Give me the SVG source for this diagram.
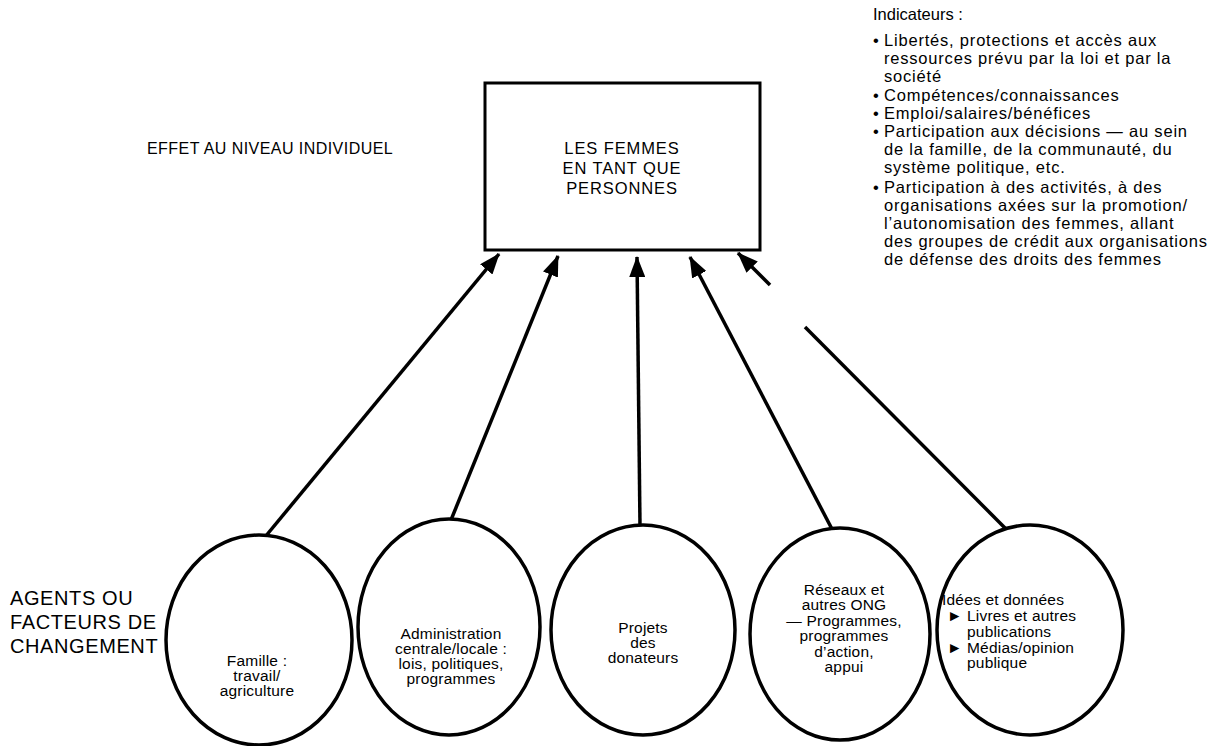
<svg xmlns="http://www.w3.org/2000/svg" width="1229" height="746" viewBox="0 0 1229 746">
<defs>
<style>
text{font-family:"Liberation Sans",Arial,sans-serif;fill:#000}
.ind{font-size:16.5px;letter-spacing:0.8px}
.c{font-size:15.5px;letter-spacing:0.2px;text-anchor:middle}
.c5{font-size:15.5px;letter-spacing:0.2px}
.big{font-size:16px;letter-spacing:0.45px}
.box{font-size:16.5px;letter-spacing:0.9px;text-anchor:middle}
.agt{font-size:20px;letter-spacing:0.6px}
.node{fill:#fff;stroke:#000;stroke-width:3.5}
.edge{stroke:#000;stroke-width:3.5;fill:none}
</style>
<marker id="ah" markerUnits="userSpaceOnUse" markerWidth="22" markerHeight="16" refX="20" refY="8" orient="auto">
<path d="M0,0 L21,8 L0,16 z" fill="#000"/>
</marker>
</defs>
<rect width="1229" height="746" fill="#fff"/>

<g id="labels">
<text class="big" x="147" y="154">EFFET AU NIVEAU INDIVIDUEL</text>
<text class="agt" x="10" y="605">AGENTS OU</text>
<text class="agt" x="10" y="629">FACTEURS DE</text>
<text class="agt" x="10" y="653">CHANGEMENT</text>
</g>

<g id="indicateurs">
<text class="ind" x="873" y="20" style="letter-spacing:0">Indicateurs :</text>
<text class="ind" x="873" y="46">•</text><text class="ind" x="884" y="46">Libertés, protections et accès aux</text>
<text class="ind" x="884" y="64">ressources prévu par la loi et par la</text>
<text class="ind" x="884" y="82">société</text>
<text class="ind" x="873" y="101">•</text><text class="ind" x="884" y="101">Compétences/connaissances</text>
<text class="ind" x="873" y="119">•</text><text class="ind" x="884" y="119">Emploi/salaires/bénéfices</text>
<text class="ind" x="873" y="137">•</text><text class="ind" x="884" y="137">Participation aux décisions — au sein</text>
<text class="ind" x="884" y="155">de la famille, de la communauté, du</text>
<text class="ind" x="884" y="173">système politique, etc.</text>
<text class="ind" x="873" y="193">•</text><text class="ind" x="884" y="193">Participation à des activités, à des</text>
<text class="ind" x="884" y="211">organisations axées sur la promotion/</text>
<text class="ind" x="884" y="229">l’autonomisation des femmes, allant</text>
<text class="ind" x="884" y="247">des groupes de crédit aux organisations</text>
<text class="ind" x="884" y="265">de défense des droits des femmes</text>
</g>

<g id="connectors">
<line class="edge" x1="265" y1="537" x2="499" y2="254" marker-end="url(#ah)"/>
<line class="edge" x1="451" y1="520" x2="558" y2="256" marker-end="url(#ah)"/>
<line class="edge" x1="640" y1="526" x2="637" y2="257" marker-end="url(#ah)"/>
<line class="edge" x1="833" y1="531" x2="690" y2="257" marker-end="url(#ah)"/>
<line class="edge" x1="770" y1="285" x2="738" y2="253" marker-end="url(#ah)"/>
<line class="edge" x1="805" y1="327" x2="1005" y2="528"/>
</g>

<g id="femmes">
<rect x="485" y="83" width="275" height="167" fill="#fff" stroke="#000" stroke-width="3"/>
<text class="box" x="622" y="154">LES FEMMES</text>
<text class="box" x="622" y="174">EN TANT QUE</text>
<text class="box" x="622" y="194">PERSONNES</text>
</g>

<g id="famille">
<ellipse class="node" cx="259" cy="640" rx="93" ry="105"/>
<text class="c" x="257" y="666">Famille :</text>
<text class="c" x="257" y="681">travail/</text>
<text class="c" x="257" y="696">agriculture</text>
</g>

<g id="administration">
<ellipse class="node" cx="449" cy="627" rx="91" ry="108"/>
<text class="c" x="451" y="639">Administration</text>
<text class="c" x="451" y="654">centrale/locale :</text>
<text class="c" x="451" y="669">lois, politiques,</text>
<text class="c" x="451" y="684">programmes</text>
</g>

<g id="donateurs">
<ellipse class="node" cx="643" cy="630" rx="92" ry="105"/>
<text class="c" x="643" y="633">Projets</text>
<text class="c" x="643" y="648">des</text>
<text class="c" x="643" y="663">donateurs</text>
</g>

<g id="reseaux">
<ellipse class="node" cx="840" cy="634" rx="90" ry="106"/>
<text class="c" x="844" y="595">Réseaux et</text>
<text class="c" x="844" y="610">autres ONG</text>
<text class="c" x="844" y="626">— Programmes,</text>
<text class="c" x="844" y="641">programmes</text>
<text class="c" x="844" y="657">d’action,</text>
<text class="c" x="844" y="672">appui</text>
</g>

<g id="idees">
<ellipse class="node" cx="1030" cy="630" rx="93" ry="105"/>
<text class="c5" x="942" y="605">Idées et données</text>
<text class="c5" x="947" y="621" font-size="10">►</text>
<text class="c5" x="967" y="621">Livres et autres</text>
<text class="c5" x="967" y="637">publications</text>
<text class="c5" x="947" y="653" font-size="10">►</text>
<text class="c5" x="967" y="653">Médias/opinion</text>
<text class="c5" x="967" y="668">publique</text>
</g>
</svg>
